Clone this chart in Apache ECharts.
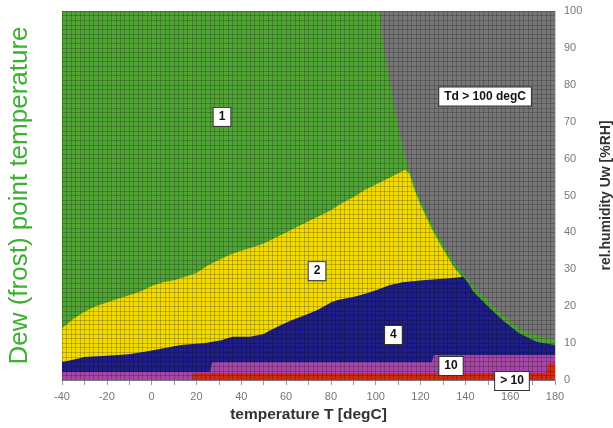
<!DOCTYPE html>
<html><head><meta charset="utf-8">
<script src="https://cdn.jsdelivr.net/npm/echarts/dist/echarts.min.js"></script>
<style>html,body{margin:0;padding:0;background:#fff}#c{width:613px;height:428px}</style>
</head><body><div id="c"></div>
<script>
// Region upper boundaries [temperature degC, rel. humidity %RH]
const grayTop = [[-40,100],[180,100]];
const greenTop = [[-40,100],[102,100],[103,93],[105.5,84],[108,75],[111,66],[114,59],[117,53.5],[120,49],[125,42.5],[130,37],[135,32],[140,28],[145,24.5],[150,21.5],[157,17.5],[164,14],[172,12],[180,11]];
const yellowTop = [[-40,14],[-35,16.5],[-30,18.5],[-25,20],[-20,21],[-15,22],[-10,23],[-5,24],[0,25.5],[5,26.5],[10,27],[15,28],[20,29],[25,31],[30,32.5],[35,34],[40,35],[45,36],[50,37],[55,38.5],[60,40],[65,41.5],[70,43],[75,44.5],[80,46],[85,48],[90,49.5],[95,51.5],[100,53],[105,54.5],[110,56],[113,57],[115,56],[117,52],[120,47.5],[125,41],[130,35.5],[135,30.5],[139,27.5],[141,0]];
const blueTop = [[-40,4.9],[-35,5.5],[-30,6.2],[-20,6.6],[-10,7],[0,8],[6,8.7],[13,9.5],[24,10],[31,10.8],[36,11.7],[44,11.7],[50,12.5],[53,13.5],[58,15],[63,16.3],[68,17.5],[74,19],[80,21],[83,21.7],[90,22.5],[96,23.5],[101,24.5],[106,25.7],[112,26.5],[121,27],[133,27.6],[139,28],[141,26.5],[143.5,24],[150,20],[157,16],[164,12.7],[172,10.3],[180,9.5]];
const purpleTop = [[-40,2.2],[26,2.2],[27,4.8],[125,4.8],[126,6.8],[180,6.8]];
const redTop = [[18,0],[18.5,1.8],[176,1.8],[177,4.5],[180,4.5]];

// Region labels
const labelT = [31.4, 148.8, 73.8, 107.9, 133.6, 160.8];
const labelRH = [71.3, 76.8, 29.5, 12.2, 3.8, -0.3];
const labelText = ['1', 'Td > 100 degC', '2', '4', '10', '> 10'];

const regions = [
  {name:'Td > 100 degC', data:grayTop, color:'#767676'},
  {name:'1', data:greenTop, color:'#50a334'},
  {name:'2', data:yellowTop, color:'#f2d900'},
  {name:'4', data:blueTop, color:'#1e1e86'},
  {name:'10', data:purpleTop, color:'#a646a6'},
  {name:'> 10', data:redTop, color:'#d42a12'}
];

const chart = echarts.init(document.getElementById('c'));
const series = regions.map((r, i) => ({
  name: r.name, type:'line', data:r.data, xAxisIndex:0, yAxisIndex:0,
  showSymbol:false, symbol:'none', smooth:false, z:1, zlevel:0,
  lineStyle:{width:0}, areaStyle:{color:r.color, opacity:1, origin:'start'},
  silent:true, animation:false
}));
series.push({
  type:'scatter', xAxisIndex:0, yAxisIndex:0, symbol:'rect', symbolSize:0, clip:false, z:50, zlevel:1,
  itemStyle:{color:'#ffffff', opacity:1},
  data: labelT.map((t, i) => [t, labelRH[i], labelText[i]]),
  label:{show:true, position:'inside', formatter:p=>p.value[2], color:'#111', opacity:1,
    fontFamily:'Liberation Sans, Arial, sans-serif', fontWeight:'bold', fontSize:12,
    backgroundColor:'#ffffff', borderColor:'#333', borderWidth:1, padding:[3,5]},
  emphasis:{disabled:true},
  animation:false
});

chart.setOption({
  animation:false,
  backgroundColor:'#ffffff',
  grid:{left:62, right:58, top:11, bottom:48, containLabel:false, outerBoundsMode:'none'},
  xAxis:[{
    type:'value', min:-40, max:180, interval:20,
    name:'temperature T [degC]', nameLocation:'middle', nameGap:23,
    nameTextStyle:{color:'#333', fontWeight:'bold', fontSize:15.5, fontFamily:'Liberation Sans, Arial, sans-serif'},
    axisLine:{show:true, lineStyle:{color:'#999'}},
    axisTick:{show:true, length:5, lineStyle:{color:'#999'}},
    minorTick:{show:true, splitNumber:2, length:5, lineStyle:{color:'#999'}},
    axisLabel:{color:'#777', fontSize:11, margin:11, fontFamily:'Liberation Sans, Arial, sans-serif'},
    splitLine:{show:false}
  },{
    type:'value', min:-40, max:180, interval:2, gridIndex:0, z:3,
    axisLine:{show:false}, axisTick:{show:false}, axisLabel:{show:false},
    splitLine:{show:true, lineStyle:{color:'rgba(0,0,0,0.2)', width:1}}
  }],
  yAxis:[{
    type:'value', position:'right', min:0, max:100, interval:10,
    name:'rel.humidity Uw [%RH]', nameLocation:'middle', nameGap:44, nameRotate:90,
    nameTextStyle:{color:'#333', fontWeight:'bold', fontSize:14, fontFamily:'Liberation Sans, Arial, sans-serif'},
    axisLine:{show:true, lineStyle:{color:'#999'}},
    axisTick:{show:true, length:5, lineStyle:{color:'#999'}},
    minorTick:{show:true, splitNumber:2, length:5, lineStyle:{color:'#999'}},
    axisLabel:{color:'#777', fontSize:11, margin:9, fontFamily:'Liberation Sans, Arial, sans-serif'},
    splitLine:{show:false}
  },{
    type:'value', position:'left', min:0, max:100, interval:10,
    name:'Dew (frost) point temperature', nameLocation:'middle', nameGap:29, nameRotate:90,
    nameTextStyle:{color:'#3cb030', fontSize:26, fontFamily:'Liberation Sans, Arial, sans-serif'},
    axisLine:{show:true, lineStyle:{color:'#ccc'}}, axisTick:{show:false}, axisLabel:{show:false},
    splitLine:{show:false}
  },{
    type:'value', position:'left', min:0, max:100, interval:1.25, z:3,
    axisLine:{show:false}, axisTick:{show:false}, axisLabel:{show:false},
    splitLine:{show:true, lineStyle:{color:'rgba(0,0,0,0.2)', width:1}}
  }],
  series: series
});
</script>
</body></html>
